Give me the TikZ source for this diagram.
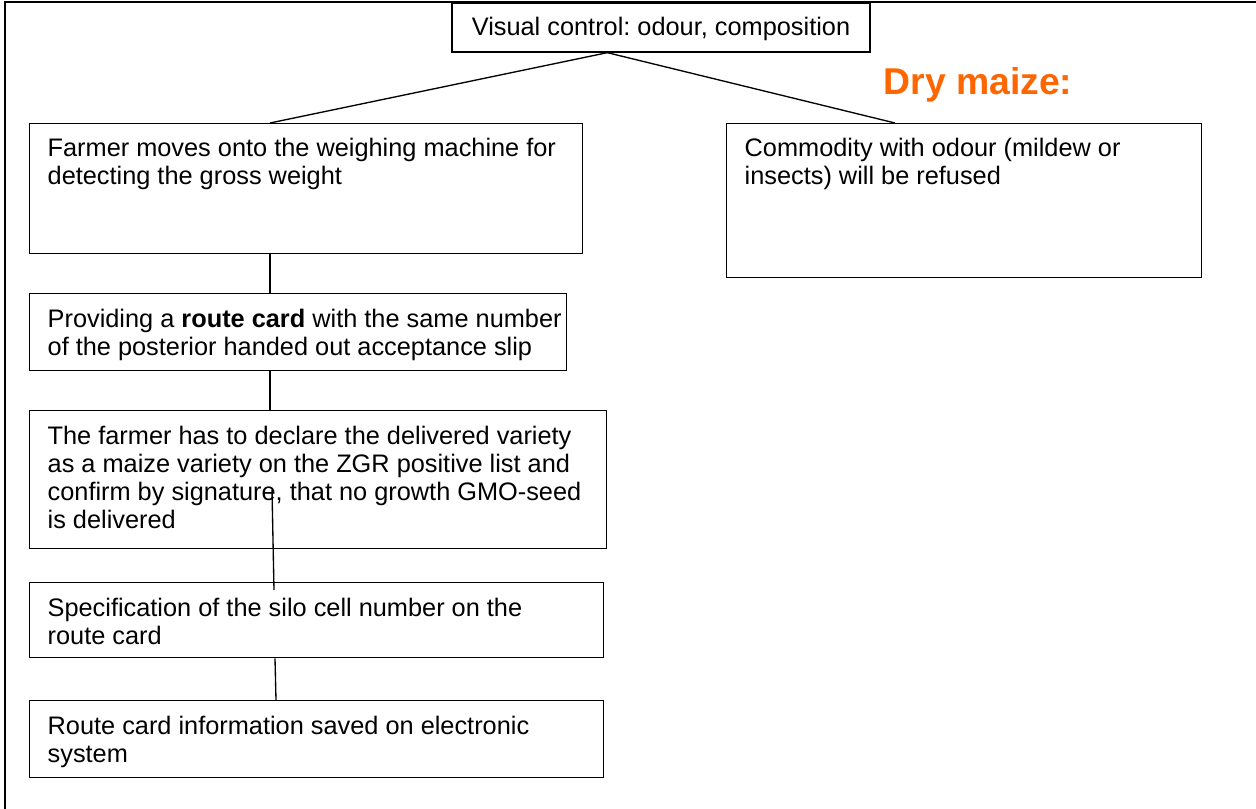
\documentclass[tikz,border=0pt]{standalone}
\usepackage{fontspec}
\setmainfont{Liberation Sans}
\frenchspacing
\definecolor{maizeorange}{HTML}{FF6600}
\newcommand{\stepbody}[3]{\parbox[t][#2][t]{#1}{\raggedright\rule{0pt}{25pt}#3}}
\tikzset{
  stepbox/.style={draw, line width=1pt, anchor=north west, inner xsep=13.5pt, inner ysep=0pt,
    font=\fontsize{19}{21}\selectfont},
  link/.style={line width=1pt}
}
\begin{document}
\begin{tikzpicture}[x=0.75pt,y=-0.75pt]
\useasboundingbox (0,0) rectangle (1256,809);
\draw[line width=1.6pt] (5,809) -- (5,2) -- (1256,2);
\node at (661,27.5) [draw,line width=1pt,minimum width=313.5pt,minimum height=36.75pt,inner sep=0pt,
  text depth=2pt,font=\fontsize{19}{21}\selectfont](Visual){Visual control: odour, composition};
\node at (978,85) [text=maizeorange,font=\fontsize{28}{32}\selectfont\bfseries](Maize){Dry maize:};
\node at (29,123) [stepbox](Weigh){\stepbody{387.75pt}{97.5pt}{Farmer moves onto the weighing machine for\\ detecting the gross weight}};
\node at (726,123) [stepbox](Refuse){\stepbody{329.25pt}{115.5pt}{Commodity with odour (mildew or\\ insects) will be refused}};
\node at (29,293) [stepbox](Card){\stepbody{375.75pt}{57.75pt}{\mbox{Providing a \textbf{route card} with the same number}\\ of the posterior handed out acceptance slip}};
\node at (29,410) [stepbox](Declare){\stepbody{405.75pt}{103.5pt}{The farmer has to declare the delivered variety\\ as a maize variety on the ZGR positive list and\\ confirm by signature, that no growth GMO-seed\\ is delivered}};
\node at (29,582) [stepbox](Silo){\stepbody{403.5pt}{56.25pt}{Specification of the silo cell number on the\\ route card}};
\node at (29,700) [stepbox](Save){\stepbody{403.5pt}{57.75pt}{Route card information saved on electronic\\ system}};
\draw[link] ([xshift=117pt]Visual.south west) -- ([xshift=180.75pt]Weigh.north west);
\draw[link] ([xshift=117pt]Visual.south west) -- ([xshift=126.75pt]Refuse.north west);
\draw[link] ([xshift=180.75pt]Weigh.south west) -- ([xshift=180.75pt]Card.north west);
\draw[link] ([xshift=180.75pt]Card.south west) -- ([xshift=180.75pt]Declare.north west);
\draw[link] ([xshift=182.25pt,yshift=-60pt]Declare.north west) -- ([xshift=183.75pt,yshift=-6pt]Silo.north west);
\draw[link] ([xshift=184.5pt]Silo.south west) -- ([xshift=185.25pt]Save.north west);
\end{tikzpicture}
\end{document}
